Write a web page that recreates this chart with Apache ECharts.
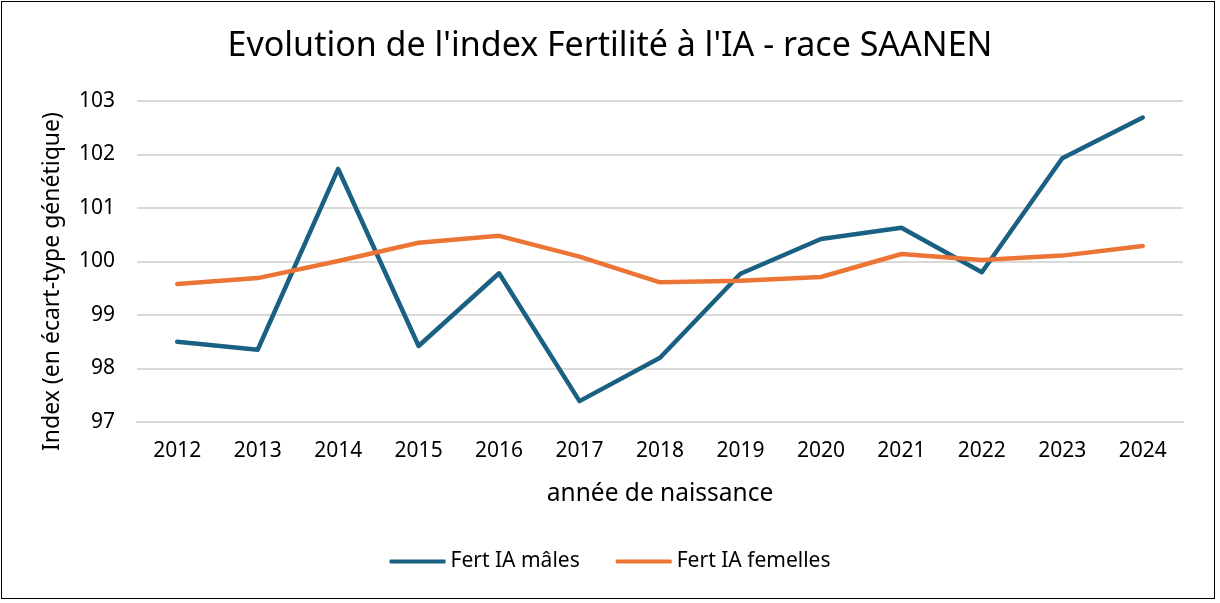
<!DOCTYPE html>
<html>
<head>
<meta charset="utf-8">
<script src="https://cdn.jsdelivr.net/npm/echarts@6/dist/echarts.min.js"></script>
<style>
  html, body { margin: 0; padding: 0; background: #fff; }
  #frame { position: absolute; left: 1px; top: 1px; width: 1214px; height: 598px; border: 1.5px solid #000; box-sizing: border-box; }
  #chart { position: absolute; left: 0; top: 0; width: 1220px; height: 603px; }
</style>
</head>
<body>
<div id="chart"></div>
<div id="frame"></div>
<script>
const years = ['2012', '2013', '2014', '2015', '2016', '2017', '2018', '2019', '2020', '2021', '2022', '2023', '2024'];
const fertMales = [98.50, 98.35, 101.73, 98.42, 99.78, 97.39, 98.20, 99.77, 100.42, 100.63, 99.80, 101.93, 102.69];
const fertFemales = [99.58, 99.69, 100.01, 100.35, 100.48, 100.09, 99.61, 99.64, 99.71, 100.14, 100.03, 100.11, 100.29];

const font = 'Noto Sans';
const myChart = echarts.init(document.getElementById('chart'));

const option = {
  backgroundColor: '#fff',
  animation: false,
  title: {
    text: "Evolution de l'index Fertilité à l'IA - race SAANEN",
    left: 'center',
    top: 24,
    textStyle: { fontFamily: font, fontSize: 34, fontWeight: 'normal', color: '#000' },
  },
  legend: {
    bottom: 26,
    left: 'center',
    itemWidth: 56,
    itemHeight: 4,
    itemGap: 36,
    icon: 'roundRect',
    textStyle: { fontFamily: font, fontSize: 21, color: '#000' },
    data: ['Fert IA mâles', 'Fert IA femelles'],
  },
  grid: {
    left: 137,
    right: 37,
    top: 101,
    bottom: 181,
  },
  xAxis: {
    type: 'category',
    data: years,
    boundaryGap: true,
    name: 'année de naissance',
    nameLocation: 'middle',
    nameGap: 60,
    nameTextStyle: { fontFamily: font, fontSize: 24.5, color: '#000' },
    axisLine: { lineStyle: { color: '#d9d9d9', width: 2 } },
    axisTick: { show: false },
    axisLabel: { fontFamily: font, fontSize: 21, color: '#000', margin: 19 },
  },
  yAxis: {
    type: 'value',
    min: 97,
    max: 103,
    interval: 1,
    name: 'Index (en écart-type génétique)',
    nameLocation: 'middle',
    nameGap: 73,
    nameTextStyle: { fontFamily: font, fontSize: 23, color: '#000', padding: [0, 40, 0, 0] },
    axisLine: { show: false },
    axisTick: { show: false },
    axisLabel: { fontFamily: font, fontSize: 21, color: '#000', margin: 22 },
    splitLine: { lineStyle: { color: '#d9d9d9', width: 2 } },
  },
  series: [
    {
      name: 'Fert IA mâles',
      type: 'line',
      data: fertMales,
      symbol: 'none',
      color: '#1a6082',
      lineStyle: { width: 4.5, color: '#1a6082', cap: 'round', join: 'round' },
    },
    {
      name: 'Fert IA femelles',
      type: 'line',
      data: fertFemales,
      symbol: 'none',
      color: '#ec7535',
      lineStyle: { width: 4.5, color: '#ec7535', cap: 'round', join: 'round' },
    },
  ],
};

myChart.setOption(option);
</script>
</body>
</html>
